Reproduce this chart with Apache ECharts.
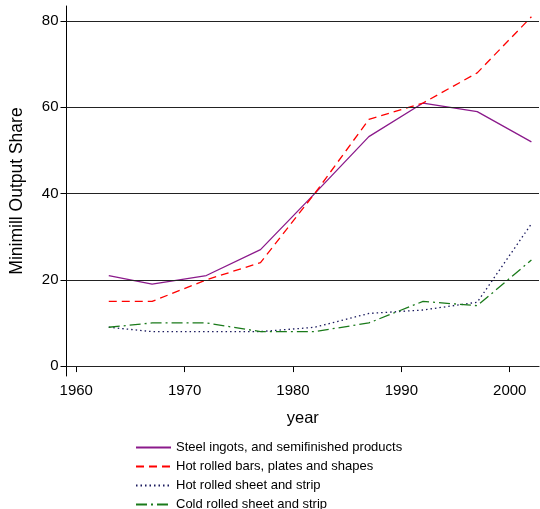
<!DOCTYPE html>
<html><head><meta charset="utf-8">
<script src="https://cdn.jsdelivr.net/npm/echarts@6/dist/echarts.min.js"></script>
<style>html,body{margin:0;padding:0;background:#fff}#c{width:540px;height:509px}</style>
</head><body><div id="c"></div>
<script>
const years = [1963, 1967, 1972, 1977, 1982, 1987, 1992, 1997, 2002];
const steelIngots = [21, 19, 21, 27, 40, 53.2, 61, 59, 52];
const hotBars = [15, 15, 20, 24, 40, 57.2, 61, 68, 81];
const hotSheet = [9, 8, 8, 8, 9, 12.2, 13, 14.8, 33];
const coldSheet = [9, 10, 10, 8, 8, 10, 15, 14, 24.6];
const xTicks = [1960, 1970, 1980, 1990, 2000];
const yTicks = [0, 20, 40, 60, 80];
const names = ['Steel ingots, and semifinished products','Hot rolled bars, plates and shapes','Hot rolled sheet and strip','Cold rolled sheet and strip'];

const font = 'Liberation Sans, Arial, Helvetica, sans-serif';
function pairs(v){ return years.map((y,i)=>[y,v[i]]); }
const legends = names.map((n,i)=>({
  orient:'vertical', left:135, top:441 + 19*i, padding:0, itemWidth:35, itemHeight:12,
  itemStyle:{opacity:0},
  textStyle:{fontSize:13, color:'#000', fontFamily:font},
  data:[n]
}));
const chart = echarts.init(document.getElementById('c'));
chart.setOption({
  animation:false,
  backgroundColor:'#fff',
  textStyle:{fontFamily:font},
  grid:{left:66.5, right:1, top:6, bottom:133, containLabel:false},
  legend:legends,
  xAxis:{
    type:'value', min:1959.1, max:2002.7,
    name:'year', nameLocation:'middle', nameGap:34,
    nameTextStyle:{fontSize:16.5, color:'#000', fontFamily:font},
    axisLine:{lineStyle:{color:'#000', width:1}},
    axisTick:{customValues:xTicks, length:6, lineStyle:{color:'#000'}},
    axisLabel:{customValues:xTicks, fontSize:15, color:'#000', margin:7, fontFamily:font,
      formatter:v=>String(v)},
    splitLine:{show:false}
  },
  yAxis:{
    type:'value', min:-2.3, max:83.5,
    name:'Minimill Output Share', nameLocation:'middle', nameGap:40, nameRotate:90,
    nameTextStyle:{fontSize:17.5, color:'#000', fontFamily:font},
    axisLine:{show:true, lineStyle:{color:'#000', width:1}},
    axisTick:{show:true, customValues:yTicks, length:6, lineStyle:{color:'#000'}},
    axisLabel:{customValues:yTicks, fontSize:15, color:'#000', margin:8, fontFamily:font,
      formatter:v=>String(v)},
    splitLine:{show:false}
  },
  series:[
    {name:names[0], type:'line', data:pairs(steelIngots), symbol:'none',
     lineStyle:{color:'#8b1a8b', width:1.3, type:'solid'}, itemStyle:{color:'#8b1a8b'},
     markLine:{silent:true, symbol:'none', label:{show:false}, animation:false,
       lineStyle:{color:'#222', width:1, type:'solid'},
       data:yTicks.map(v=>({yAxis:v}))}, z:3},
    {name:names[1], type:'line', data:pairs(hotBars), symbol:'none',
     lineStyle:{color:'#ff0000', width:1.3, type:[8,5]}, itemStyle:{color:'#ff0000'}, z:3},
    {name:names[2], type:'line', data:pairs(hotSheet), symbol:'none',
     lineStyle:{color:'#1a1a5e', width:1.3, type:[1.5,3]}, itemStyle:{color:'#1a1a5e'}, z:3},
    {name:names[3], type:'line', data:pairs(coldSheet), symbol:'none',
     lineStyle:{color:'#1a7a1a', width:1.3, type:[11,4,2,4]}, itemStyle:{color:'#1a7a1a'}, z:3}
  ]
});
</script></body></html>
